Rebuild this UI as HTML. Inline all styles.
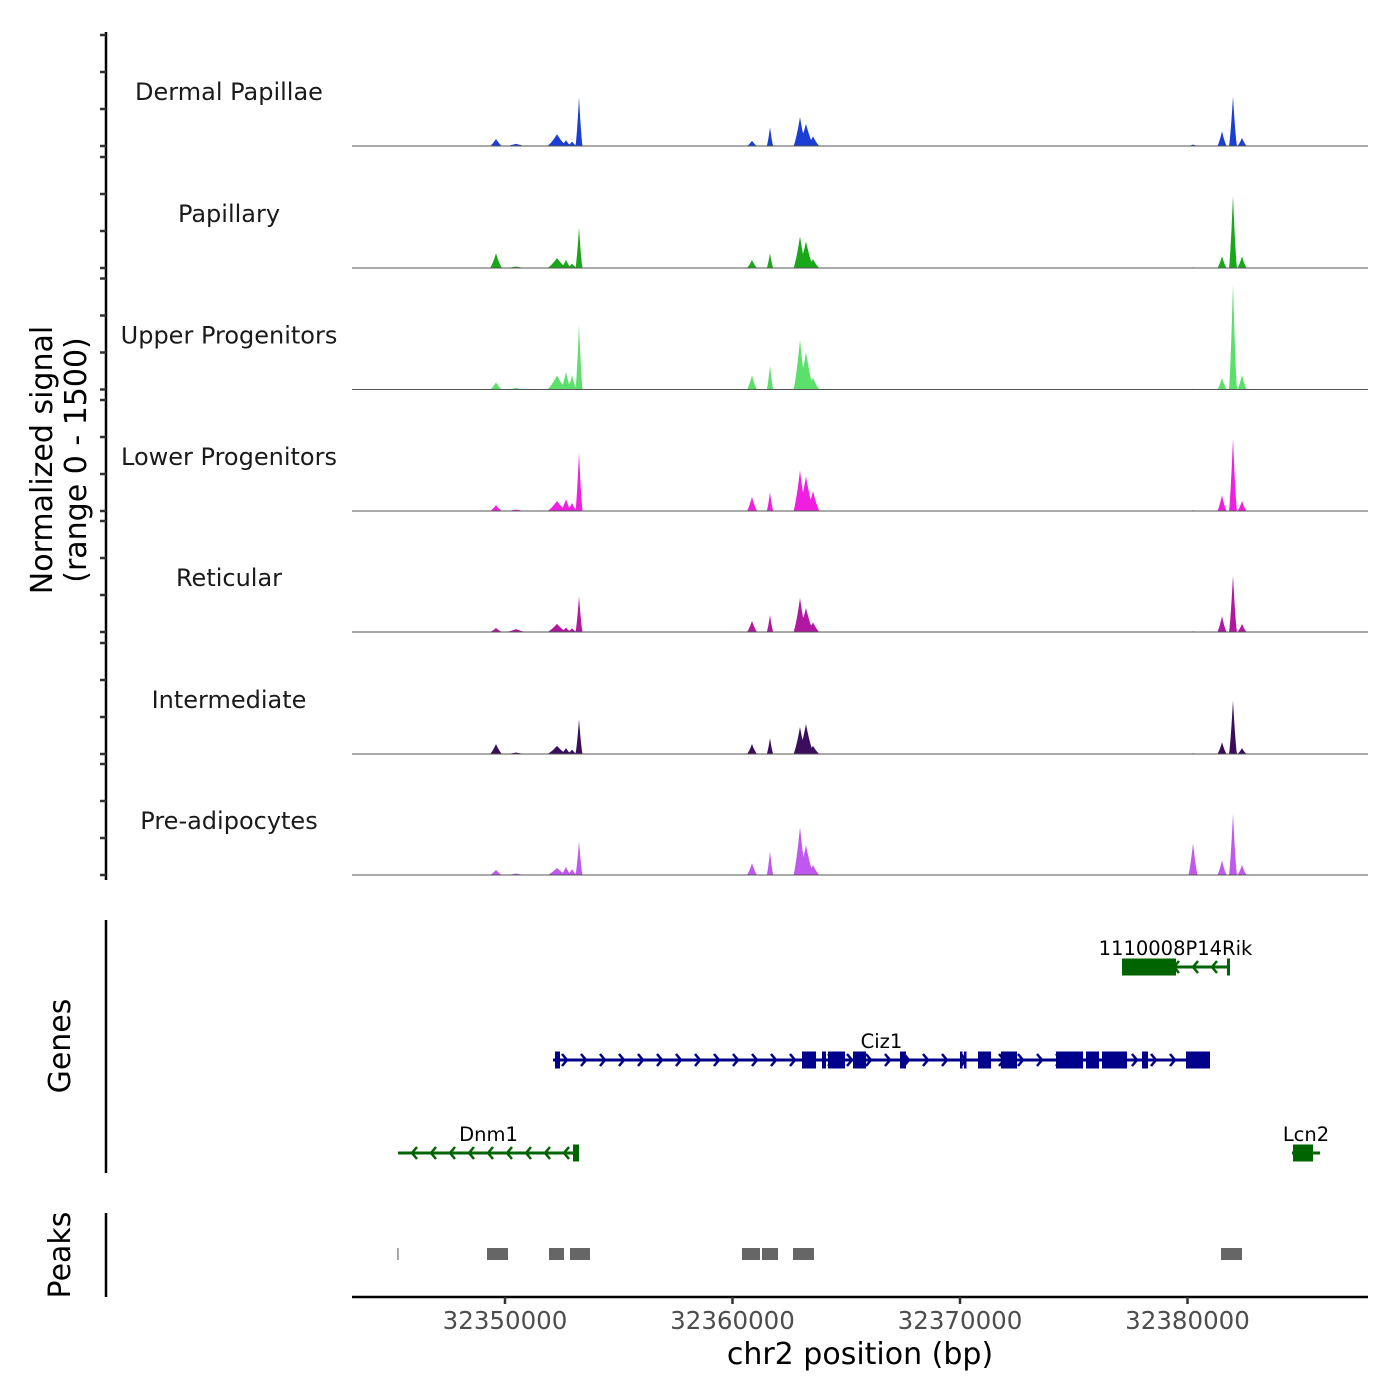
<!DOCTYPE html>
<html><head><meta charset="utf-8"><style>
html,body{margin:0;padding:0;background:#fff;}
svg{display:block;font-family:"DejaVu Sans","Liberation Sans",sans-serif;}
</style></head><body>
<svg id="chart" width="1400" height="1400" viewBox="0 0 1400 1400" xmlns="http://www.w3.org/2000/svg">
<g id="tracks"></g>
<g id="yaxis"></g>
<g id="genes"></g>
<g id="peaks"></g>
<g id="xaxis"></g>
<text transform="translate(52,460) rotate(-90)" text-anchor="middle" font-size="30" fill="#000">Normalized signal</text>
<text transform="translate(86,460) rotate(-90)" text-anchor="middle" font-size="30" fill="#000">(range 0 - 1500)</text>
<text transform="translate(70,1046) rotate(-90)" text-anchor="middle" font-size="30" fill="#000">Genes</text>
<text transform="translate(70,1255) rotate(-90)" text-anchor="middle" font-size="30" fill="#000">Peaks</text>
<text x="860" y="1364" text-anchor="middle" font-size="30" fill="#000">chr2 position (bp)</text>
</svg>
<script>
const trackNames = ["Dermal Papillae","Papillary","Upper Progenitors","Lower Progenitors","Reticular","Intermediate","Pre-adipocytes"];
const trackColors = ["#1a3ed6","#1aa81a","#5be06b","#f01ee0","#b0189f","#3a0e5c","#c058f0"];
const peakCenters = [32349604,32350484,32352286,32352681,32352945,32353253,32360857,32361648,32362967,32363231,32363538,32380242,32381516,32381999,32382396];
const peakHalfWidths = [260,420,420,220,200,150,220,140,280,340,280,200,200,170,200];
const dermalValues = [95,30,160,80,60,660,70,255,390,300,130,20,200,675,110];
const papillaryValues = [200,20,135,110,60,550,110,200,430,360,120,10,160,985,160];
const upperValues = [95,20,190,240,190,875,190,325,675,510,160,10,160,1440,200];
const lowerValues = [80,20,135,160,110,795,190,255,550,470,270,10,215,985,135];
const reticularValues = [55,40,110,60,50,485,150,230,460,325,130,10,215,770,110];
const intermediateValues = [135,20,110,80,60,470,135,215,365,405,110,10,160,730,80];
const preadipoValues = [70,20,95,110,80,460,160,325,650,405,135,430,200,835,135];
const trackValues = [dermalValues,papillaryValues,upperValues,lowerValues,reticularValues,intermediateValues,preadipoValues];
const xTicks = [32350000,32360000,32370000,32380000];
const geneNames = ["1110008P14Rik","Ciz1","Dnm1","Lcn2"];
const geneStarts = [32377121,32352110,32345297,32384593];
const geneEnds = [32381824,32380989,32353253,32385824];
const geneStrands = [-1,1,-1,-1];
const geneRows = [0,1,2,2];
const geneColors = ["#006400","#00008b","#006400","#006400"];
const geneExons = [
 [[32377121,32379495],[32381736,32381868]],
 [[32352198,32352418],[32363055,32363670],[32363934,32364110],[32364198,32364945],[32365297,32365868],[32367363,32367626],[32370000,32370088],[32370176,32370264],[32370791,32371363],[32371802,32372505],[32374220,32375407],[32375538,32376110],[32376242,32377341],[32378000,32378264],[32379934,32380989]],
 [[32352989,32353253]],
 [[32384637,32385516]]
];
const peakStarts = [32345270,32349209,32351934,32352857,32360418,32361297,32362659,32381473];
const peakEnds = [32345320,32350132,32352593,32353736,32361209,32362000,32363582,32382396];

const NS="http://www.w3.org/2000/svg";
function el(tag, attrs, parent){const e=document.createElementNS(NS,tag);for(const k in attrs)e.setAttribute(k,attrs[k]);parent.appendChild(e);return e;}
const X0=352, X1=1368, BP0=32343275, BP1=32387934;
function xs(bp){return X0+(bp-BP0)/(BP1-BP0)*(X1-X0);}
const baselines=[146,268,389.5,511,632,754,875];
const TH=111;
function ys(v,i){return baselines[i]-v/1500*TH;}

const gT=document.getElementById('tracks');
trackNames.forEach((name,i)=>{
  const vals=trackValues[i];
  let d=`M${X0},${baselines[i]}`;
  for(let px=X0;px<=X1;px+=0.5){
    const bp=BP0+(px-X0)/(X1-X0)*(BP1-BP0);
    let v=0;
    for(let k=0;k<peakCenters.length;k++){
      const t=1-Math.abs(bp-peakCenters[k])/peakHalfWidths[k];
      if(t>0)v=Math.max(v,vals[k]*t*t*0.35+vals[k]*t*0.65);
    }
    d+=`L${px},${ys(v,i).toFixed(2)}`;
  }
  d+=`L${X1},${baselines[i]}Z`;
  const p=el('path',{d:d,fill:trackColors[i]},gT);
  
  
  const ln=el('line',{x1:X0,x2:X1,y1:baselines[i],y2:baselines[i],stroke:'#555','stroke-width':1},gT);
  
  
  const t=el('text',{x:229,y:baselines[i]-46,'text-anchor':'middle','font-size':24,fill:'#1a1a1a'},gT);
  t.textContent=name;
  
  
});

const gY=document.getElementById('yaxis');
el('line',{x1:106,x2:106,y1:32,y2:880,stroke:'#000','stroke-width':2.5},gY);
baselines.forEach((b,i)=>{
  for(let k=0;k<4;k++){
    const y=b-k*TH/3;
    const tk=el('line',{x1:100,x2:106,y1:y,y2:y,stroke:'#333','stroke-width':2.5},gY);
    
    
  }
});

const gG=document.getElementById('genes');
el('line',{x1:106,x2:106,y1:920,y2:1173,stroke:'#000','stroke-width':2.5},gG);
const rowY=[967,1060,1153];
geneNames.forEach((g,i)=>{
  const y=rowY[geneRows[i]], c=geneColors[i];
  const x1=xs(geneStarts[i]), x2=xs(geneEnds[i]);
  const grp=el('g',{},gG);
  
  
  el('line',{x1:x1,x2:x2,y1:y,y2:y,stroke:c,'stroke-width':3},grp);
  const s=geneStrands[i];
  for(let x=x1+14;x<x2-6;x+=19){
    el('polyline',{points:`${x-5*s},${y-6} ${x},${y} ${x-5*s},${y+6}`,fill:'none',stroke:c,'stroke-width':2.5},grp);
  }
  geneExons[i].forEach(e=>{
    const a=xs(e[0]),b=xs(e[1]);
    el('rect',{x:a,y:y-8.5,width:Math.max(b-a,2.5),height:17,fill:c},grp);
  });
  const t=el('text',{x:(x1+x2)/2,y:y-12,'text-anchor':'middle','font-size':19.5,fill:'#000'},grp);
  t.textContent=g;
  
  
});

const gP=document.getElementById('peaks');
el('line',{x1:106,x2:106,y1:1213,y2:1297,stroke:'#000','stroke-width':2.5},gP);
peakStarts.forEach((s,i)=>{
  const a=xs(s),b=xs(peakEnds[i]);
  const r=el('rect',{x:a,y:1248,width:Math.max(b-a,1),height:12,fill:'#666'},gP);
  
  
});

const gX=document.getElementById('xaxis');
el('line',{x1:X0,x2:X1,y1:1297,y2:1297,stroke:'#000','stroke-width':2.5},gX);
xTicks.forEach(v=>{
  const x=xs(v);
  el('line',{x1:x,x2:x,y1:1297,y2:1304,stroke:'#333','stroke-width':2.5},gX);
  const t=el('text',{x:x,y:1329,'text-anchor':'middle','font-size':24.5,fill:'#4d4d4d'},gX);
  t.textContent=v;
  
  
});
</script>
</body></html>
